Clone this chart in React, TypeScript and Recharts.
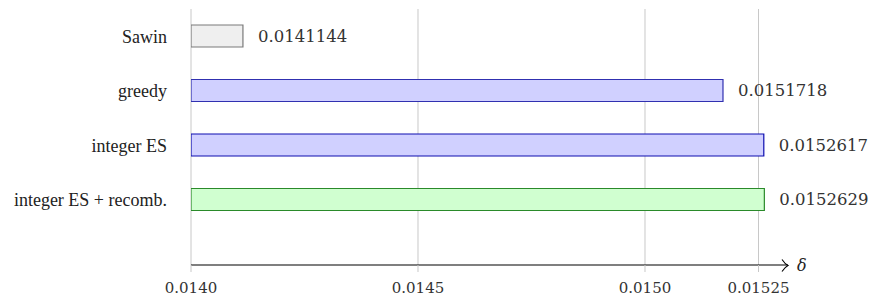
import { BarChart, Bar, XAxis, YAxis, CartesianGrid, Cell, LabelList } from 'recharts';

// ── Data ──────────────────────────────────────────────────────────────────────

const METHODS = ['Sawin', 'greedy', 'integer ES', 'integer ES + recomb.'];
const DELTA = [0.0141144, 0.0151718, 0.0152617, 0.0152629];
const FILLS = ['#efefef', '#d0d0ff', '#d0d0ff', '#d0ffd0'];
const STROKES = ['#7a7a7a', '#3030b0', '#0c0cb0', '#2a8a2a'];
const X_TICKS = [0.014, 0.0145, 0.015, 0.01525];
const X_TICK_LABELS = ['0.0140', '0.0145', '0.0150', '0.01525'];
const X_DOMAIN: [number, number] = [0.014, 0.015315];

const data = METHODS.map((name, i) => ({ name, value: DELTA[i] }));

const SERIF = 'DejaVu Serif, serif';
const TIMES = 'Liberation Serif, serif';

// ── Axis arrow + delta label ─────────────────────────────────────────────────

function ArrowLabel({ viewBox }: { viewBox?: { x: number; y: number; width: number } }) {
  if (!viewBox) return null;
  const ex = viewBox.x + viewBox.width;
  const ey = viewBox.y + 0.5;
  return (
    <g>
      <path
        d={`M ${ex - 6} ${ey - 6} Q ${ex - 3} ${ey - 1.5} ${ex} ${ey} Q ${ex - 3} ${ey + 1.5} ${ex - 6} ${ey + 6}`}
        fill="none" stroke="#000" strokeWidth={1.1}
      />
      <text x={ex + 9} y={ey + 5} fontFamily={SERIF} fontStyle="italic" fontSize={16} fill="#222">δ</text>
    </g>
  );
}

// only the tick positions get a grid line, not the plot's right edge
function gridX({ xAxis, offset }: any) {
  if (typeof xAxis?.scale === 'function') return X_TICKS.map((t) => xAxis.scale(t));
  if (typeof xAxis?.scale?.map === 'function') return X_TICKS.map((t) => xAxis.scale.map(t));
  const [lo, hi] = X_DOMAIN;
  return X_TICKS.map((t) => offset.left + ((t - lo) / (hi - lo)) * offset.width);
}

// ── Chart ─────────────────────────────────────────────────────────────────────

export default function App() {
  return (
    <div style={{ position: 'absolute', left: 0, top: 0, width: 869, height: 299, background: '#fff' }}>
      <BarChart
        width={869} height={299} data={data} layout="vertical"
        margin={{ top: 9, right: 81, left: 0, bottom: 0 }}
        barSize={22}
      >
        <CartesianGrid horizontal={false} stroke="#c8c8c8" verticalCoordinatesGenerator={gridX} />
        <XAxis
          type="number" domain={X_DOMAIN} ticks={X_TICKS} allowDataOverflow
          height={34}
          tickFormatter={(v: number) => X_TICK_LABELS[X_TICKS.indexOf(v)] ?? String(v)}
          axisLine={{ stroke: '#000', strokeWidth: 1.1 }}
          tickLine={{ stroke: '#c8c8c8' }} tickSize={7} tickMargin={10}
          tick={{ fontFamily: SERIF, fontSize: 15, fill: '#333' }}
          label={<ArrowLabel />}
        />
        <YAxis
          type="category" dataKey="name" width={191}
          axisLine={false} tickLine={false} tickSize={0} tickMargin={24}
          padding={{ top: 0, bottom: 38 }}
          tick={{ fontFamily: TIMES, fontSize: 18, fill: '#222' }}
        />
        <Bar dataKey="value" isAnimationActive={false} strokeWidth={1.2}>
          {data.map((d, i) => (
            <Cell key={d.name} fill={FILLS[i]} stroke={STROKES[i]} />
          ))}
          <LabelList
            dataKey="value" position="right" offset={15}
            formatter={(v: number) => String(v)}
            style={{ fontFamily: SERIF, fontSize: 16.5, fill: '#333' }}
          />
        </Bar>
      </BarChart>
    </div>
  );
}
